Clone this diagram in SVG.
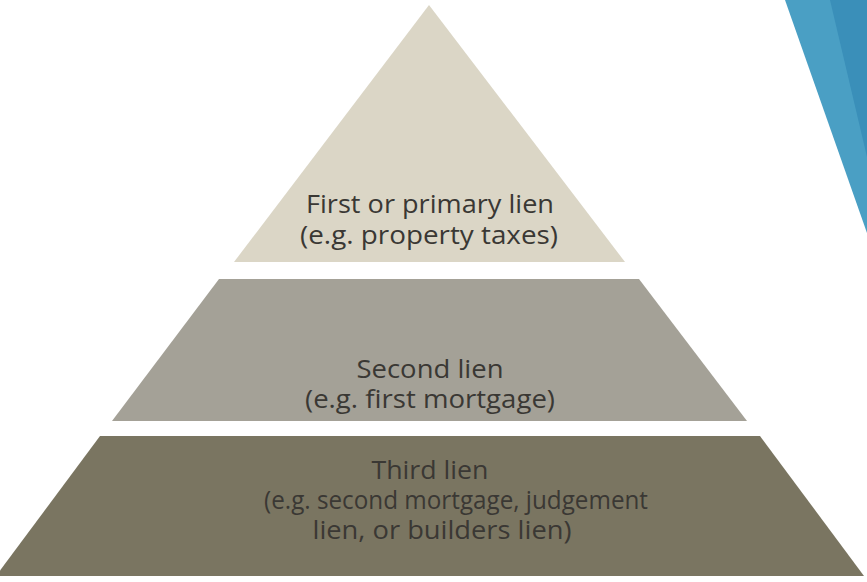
<svg xmlns="http://www.w3.org/2000/svg" width="867" height="582" viewBox="0 0 867 582">
<style>
.lbl{font-family:"Open Sans","Noto Sans","Liberation Sans",sans-serif;font-size:26px;fill:#3a3834;text-anchor:middle}
</style>
<rect width="867" height="582" fill="#ffffff"/>
<g id="accent">
<polygon points="785,0 867,0 867,233" fill="#4a9fc4"/>
<polygon points="830,0 867,0 867,157" fill="#3a8fb9"/>
</g>
<g id="tier1">
<polygon points="429,5 625,262 234,262" fill="#dbd6c6"/>
<text class="lbl" x="430" y="213" textLength="248" lengthAdjust="spacingAndGlyphs">First or primary lien</text>
<text class="lbl" x="429" y="244" textLength="258" lengthAdjust="spacingAndGlyphs">(e.g. property taxes)</text>
</g>
<g id="tier2">
<polygon points="219,279 639,279 747,421 112,421" fill="#a4a197"/>
<text class="lbl" x="430" y="378" textLength="147" lengthAdjust="spacingAndGlyphs">Second lien</text>
<text class="lbl" x="430" y="408" textLength="250" lengthAdjust="spacingAndGlyphs">(e.g. first mortgage)</text>
</g>
<g id="tier3">
<polygon points="100,436 760,436 864,576 -4,576" fill="#7a7561"/>
<text class="lbl" x="430" y="479" textLength="117" lengthAdjust="spacingAndGlyphs">Third lien</text>
<text class="lbl" x="456" y="509" textLength="384" lengthAdjust="spacingAndGlyphs">(e.g. second mortgage, judgement</text>
<text class="lbl" x="442" y="539" textLength="259" lengthAdjust="spacingAndGlyphs">lien, or builders lien)</text>
</g>
<g id="connectors"/>
</svg>
